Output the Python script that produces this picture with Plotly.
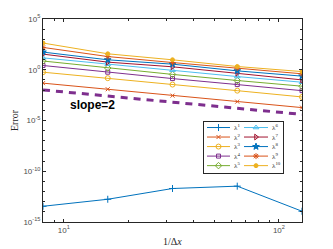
import plotly.graph_objects as go
import numpy as np

N = [8, 16, 32, 64, 128]
# log10 of error values
logerr = {
    1: [-13.45, -12.76, -11.70, -11.47, -13.94],
    2: [-1.32, -1.92, -2.55, -3.14, -3.73],
    3: [-0.24, -0.83, -1.46, -2.06, -2.68],
    4: [0.42, -0.24, -0.87, -1.46, -2.06],
    5: [0.86, 0.17, -0.46, -1.06, -1.62],
    6: [1.17, 0.55, -0.04, -0.67, -1.23],
    7: [1.54, 0.75, 0.29, -0.34, -1.00],
    8: [1.74, 0.98, 0.55, -0.11, -0.63],
    9: [2.20, 1.30, 0.71, 0.16, -0.40],
    10: [2.63, 1.57, 0.98, 0.32, -0.18],
}
slope_ref = [10 ** -1.99 * (8 / n) ** 2 for n in [8, 128]]
slope_x = [8, 128]

colors = {1: "#0072BD", 2: "#D95319", 3: "#EDB120", 4: "#7E2F8E", 5: "#77AC30",
          6: "#4DBEEE", 7: "#A2142F", 8: "#0072BD", 9: "#D95319", 10: "#EDB120"}
symbols = {1: "cross-thin-open", 2: "x-thin-open", 3: "circle-open", 4: "square-open",
           5: "diamond-open", 6: "triangle-up-open", 7: "triangle-right-open",
           8: "star", 9: "asterisk-open", 10: "circle"}
sizes = {1: 5, 2: 4, 3: 5, 4: 4, 5: 5, 6: 5, 7: 5, 8: 5, 9: 5, 10: 4}

fig = go.Figure()
for k in range(1, 11):
    fig.add_trace(go.Scatter(
        x=N, y=[10 ** v for v in logerr[k]], mode="lines+markers",
        line=dict(color=colors[k], width=1),
        marker=dict(symbol=symbols[k], size=sizes[k], color=colors[k],
                    line=dict(color=colors[k], width=1)),
        showlegend=False))

fig.add_trace(go.Scatter(x=slope_x, y=slope_ref, mode="lines",
                         line=dict(color="#7E2F8E", width=3, dash="7px,6px"),
                         showlegend=False))

# custom legend in inset axes (pixel-like units)
rows = [127.5 + 9.5 * i for i in range(5)]
cols = [(207, 230), (244, 268)]
annotations = []
for k in range(1, 11):
    c = (k - 1) // 5
    r = (k - 1) % 5
    x0, x1 = cols[c]
    yy = rows[r]
    fig.add_trace(go.Scatter(x=[x0, x1], y=[yy, yy], mode="lines",
                             line=dict(color=colors[k], width=1),
                             xaxis="x2", yaxis="y2", showlegend=False, hoverinfo="skip"))
    fig.add_trace(go.Scatter(x=[(x0 + x1) / 2], y=[yy], mode="markers",
                             marker=dict(symbol=symbols[k], size=sizes[k], color=colors[k],
                                         line=dict(color=colors[k], width=1)),
                             xaxis="x2", yaxis="y2", showlegend=False, hoverinfo="skip"))
    annotations.append(dict(x=x1 + 1.5, y=yy, xref="x2", yref="y2", xanchor="left",
                            yanchor="middle", showarrow=False,
                            text="λ<sup>%d</sup>" % k,
                            font=dict(family="Liberation Serif", size=7, color="#262626")))

annotations.append(dict(x=np.log10(13.6), y=-3.47, xref="x", yref="y", showarrow=False,
                        text="<b>slope=2</b>",
                        font=dict(family="Liberation Sans", size=12, color="black")))
annotations.append(dict(x=0.5, y=-0.098, xref="paper", yref="paper", showarrow=False,
                        yanchor="middle", text="1/Δ<i>x</i>",
                        font=dict(family="Liberation Serif", size=10, color="#262626")))
annotations.append(dict(x=-0.11, y=0.5, xref="paper", yref="paper", showarrow=False,
                        textangle=-90, xanchor="center", text="Error",
                        font=dict(family="Liberation Serif", size=10, color="#262626")))

axcol = "#262626"
fig.update_layout(
    width=333, height=249,
    margin=dict(l=43, r=31, t=19, b=27),
    paper_bgcolor="white", plot_bgcolor="white",
    showlegend=False,
    annotations=annotations,
    xaxis=dict(type="log", range=[np.log10(8), np.log10(128)],
               tickvals=[10, 100], ticktext=["10<sup>1</sup>", "10<sup>2</sup>"],
               ticks="inside", ticklen=3, tickcolor=axcol,
               minor=dict(ticks="inside", ticklen=2, tickcolor=axcol,
                          tickvals=[9, 20, 30, 40, 50, 60, 70, 80, 90], showgrid=False),
               showline=True, linecolor=axcol, linewidth=1, mirror="allticks",
               showgrid=False, zeroline=False,
               tickfont=dict(family="Liberation Sans", size=8, color="#4d4d4d")),
    yaxis=dict(type="log", range=[-15, 5],
               tickvals=[1e-15, 1e-10, 1e-5, 1, 1e5],
               ticktext=["10<sup>-15</sup>", "10<sup>-10</sup>", "10<sup>-5</sup>",
                         "10<sup>0</sup>", "10<sup>5</sup>"],
               ticks="inside", ticklen=3, tickcolor=axcol,
               minor=dict(ticks="inside", ticklen=2, tickcolor=axcol,
                          tickvals=[10.0 ** e for e in range(-15, 6)], showgrid=False),
               showline=True, linecolor=axcol, linewidth=1, mirror="allticks",
               showgrid=False, zeroline=False,
               tickfont=dict(family="Liberation Sans", size=8, color="#4d4d4d")),
    xaxis2=dict(domain=[(204 - 43) / 259, (283 - 43) / 259], range=[204, 283],
                anchor="y2", showline=True, mirror=True, linecolor=axcol, linewidth=1,
                showticklabels=False, ticks="", showgrid=False, zeroline=False),
    yaxis2=dict(domain=[(221.7 - 173) / 202.4, (221.7 - 122) / 202.4], range=[173, 122],
                anchor="x2", showline=True, mirror=True, linecolor=axcol, linewidth=1,
                showticklabels=False, ticks="", showgrid=False, zeroline=False),
)

fig.write_html("out.html", config={"displayModeBar": False},
               post_script="document.body.style.margin='0';document.body.style.overflow='hidden';")
